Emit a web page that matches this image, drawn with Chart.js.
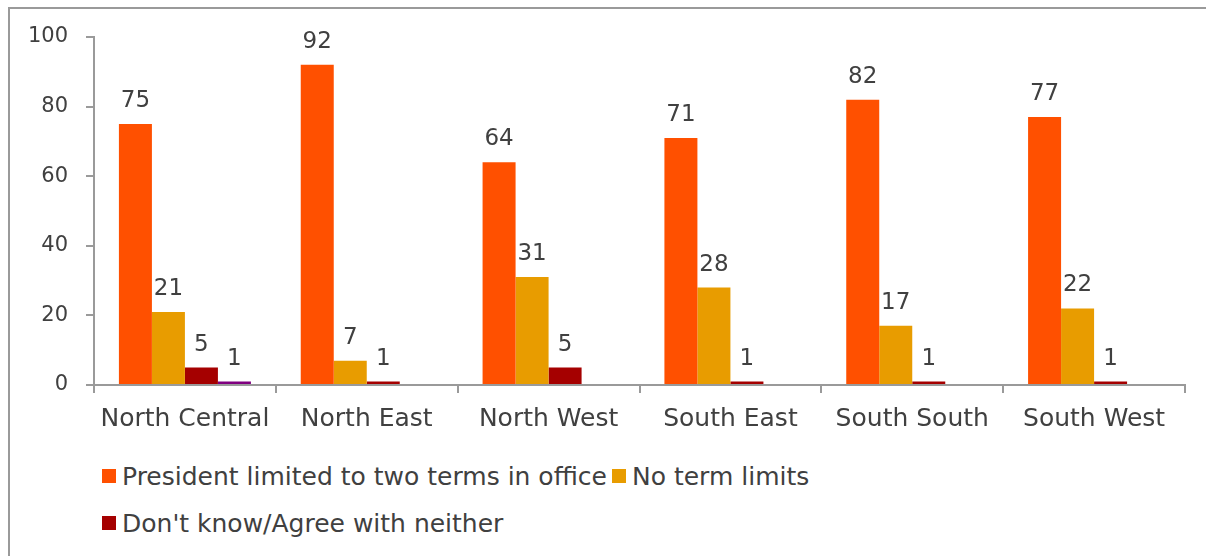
<!DOCTYPE html>
<html>
<head>
<meta charset="utf-8">
<script src="https://cdn.jsdelivr.net/npm/chart.js@4.4.1/dist/chart.umd.min.js"></script>
<style>
  html, body { margin: 0; padding: 0; background: #fff; }
  body { width: 1206px; height: 556px; position: relative; overflow: hidden; font-family: "DejaVu Sans", sans-serif; }
  #frame { position: absolute; left: 8px; top: 7px; width: 1210px; height: 560px;
    border-left: 2px solid #9a9a9a; border-top: 2px solid #9a9a9a; }
  #wrap { position: absolute; left: 0; top: 0; width: 1206px; height: 450px; }
  #legend { position: absolute; left: 102px; top: 462px; width: 760px;
    display: flex; flex-wrap: wrap; row-gap: 19px; color: #404040; font-size: 25px; }
  .item { display: flex; align-items: center; margin-right: 5px; height: 28px; }
  .box { width: 14px; height: 14px; margin-right: 6px; }
</style>
</head>
<body>
<div id="frame"></div>
<div id="wrap"><canvas id="chart"></canvas></div>
<div id="legend"></div>
<script>
// ==========================
// DATA
// ==========================
const categories = ["North Central", "North East", "North West", "South East", "South South", "South West"];
const twoTerms = [75, 92, 64, 71, 82, 77];
const noLimits = [21, 7, 31, 28, 17, 22];
const dontKnow = [5, 1, 5, 1, 1, 1];
const otherAns = [1, null, null, null, null, null];
const yTicks = [0, 20, 40, 60, 80, 100];

const textColor = "#404040";
const axisColor = "#9a9a9a";

// value labels above bars
const barLabels = {
  id: "barLabels",
  afterDatasetsDraw(chart) {
    const ctx = chart.ctx;
    ctx.save();
    ctx.font = "23px 'DejaVu Sans'";
    ctx.fillStyle = textColor;
    ctx.textAlign = "center";
    ctx.textBaseline = "alphabetic";
    chart.data.datasets.forEach((ds, i) => {
      chart.getDatasetMeta(i).data.forEach((bar, j) => {
        const v = ds.data[j];
        if (v == null) return;
        ctx.fillText(String(v), bar.x, bar.y - 17);
      });
    });
    ctx.restore();
  }
};

const ctx = document.getElementById("chart").getContext("2d");

const chart = new Chart(ctx, {
  type: "bar",
  data: {
    labels: categories,
    datasets: [
      { label: "President limited to two terms in office", data: twoTerms, backgroundColor: "#ff5000" },
      { label: "No term limits", data: noLimits, backgroundColor: "#e89c00" },
      { label: "Don't know/Agree with neither", data: dontKnow, backgroundColor: "#a50000" },
      { label: "", data: otherAns, backgroundColor: "#800080", hideInLegend: true }
    ]
  },
  options: {
    responsive: true,
    maintainAspectRatio: false,
    animation: false,
    categoryPercentage: 0.726,
    barPercentage: 1,
    layout: { padding: { left: 0, right: 21, top: 37, bottom: 0 } },
    plugins: {
      legend: { display: false },
      tooltip: { enabled: false }
    },
    scales: {
      x: {
        grid: { offset: true, drawOnChartArea: false, drawTicks: true, tickLength: 8, color: axisColor, lineWidth: 2 },
        border: { color: axisColor, width: 2 },
        ticks: { color: textColor, font: { family: "DejaVu Sans", size: 25 }, padding: 11, maxRotation: 0 },
        afterFit(axis) { axis.height = 65; }
      },
      y: {
        min: 0,
        max: 100,
        afterBuildTicks(axis) { axis.ticks = yTicks.map(v => ({ value: v })); },
        grid: { drawOnChartArea: false, drawTicks: true, tickLength: 8, color: axisColor, lineWidth: 2 },
        border: { color: axisColor, width: 2 },
        ticks: { color: textColor, font: { family: "DejaVu Sans", size: 21 }, padding: 18 },
        afterFit(axis) { axis.width = 94; }
      }
    }
  },
  plugins: [barLabels]
});

// ==========================
// LEGEND
// ==========================
const legend = document.getElementById("legend");
chart.data.datasets.forEach(ds => {
  if (ds.hideInLegend) return;
  const item = document.createElement("div");
  item.className = "item";
  item.innerHTML = `<span class="box" style="background:${ds.backgroundColor}"></span><span>${ds.label}</span>`;
  legend.appendChild(item);
});
</script>
</body>
</html>
